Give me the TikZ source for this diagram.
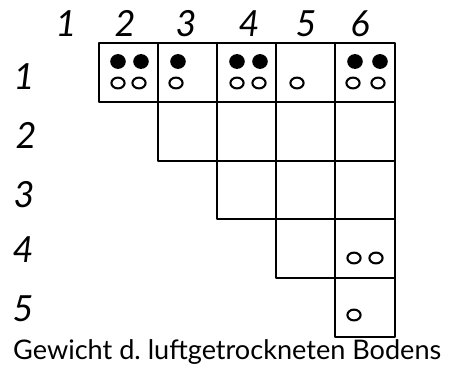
\documentclass[tikz,border=0pt]{standalone}
\usepackage{fontspec}
\usepackage{graphicx}
\setmainfont{Lato}
\begin{document}
\begin{tikzpicture}[x=1pt,y=-1pt,
  grid/.style={line width=1.6pt, line join=round},
  full/.style={fill=black},
  hollow/.style={draw=black, line width=2.1pt},
  lab/.style={anchor=base, inner sep=0pt, font=\fontsize{36}{38}\selectfont\itshape}]
\useasboundingbox (0,0) rectangle (456,370);
% column labels
\node[lab] (c1) at (66,36) {1};
\node[lab] (c2) at (125,36) {2};
\node[lab] (c3) at (186,36) {3};
\node[lab] (c4) at (249,36) {4};
\node[lab] (c5) at (306,36) {5};
\node[lab] (c6) at (360,36) {6};
% row labels
\node[lab] (r1) at (24,89) {1};
\node[lab] (r2) at (26,148) {2};
\node[lab] (r3) at (24,207) {3};
\node[lab] (r4) at (23,262) {4};
\node[lab] (r5) at (23,321) {5};
% grid
\draw[grid] (99,43) rectangle (395,102);
\draw[grid] (158,43) -- (158,102) (217,43) -- (217,102) (276,43) -- (276,102) (335,43) -- (335,102);
\draw[grid] (158,102) -- (158,161) -- (395,161) -- (395,102);
\draw[grid] (217,102) -- (217,161) (276,102) -- (276,161) (335,102) -- (335,161);
\draw[grid] (217,161) -- (217,219) -- (395,219) -- (395,161);
\draw[grid] (276,161) -- (276,219) (335,161) -- (335,219);
\draw[grid] (276,219) -- (276,278) -- (395,278) -- (395,219);
\draw[grid] (335,219) -- (335,278);
\draw[grid] (335,278) -- (335,337) -- (395,337) -- (395,278);
% filled dots, row 1
\foreach \x in {118,141,178,237,260,355,380}
  \fill[full] (\x,61.5) ellipse [x radius=7.8, y radius=7.4];
% hollow dots
\foreach \x/\y in {118/83,139/83,176/83,237/83,259/83,297/83,353/83,378/83,354/258,376/258,354/315}
  \draw[hollow] (\x,\y) ellipse [x radius=6.6, y radius=5.4];
% caption
\node[anchor=base west, inner sep=0pt] (cap) at (13,359)
  {\resizebox{428pt}{\height}{\fontsize{27}{29}\selectfont Gewicht d.\ luftgetrockneten Bodens}};
\end{tikzpicture}
\end{document}
